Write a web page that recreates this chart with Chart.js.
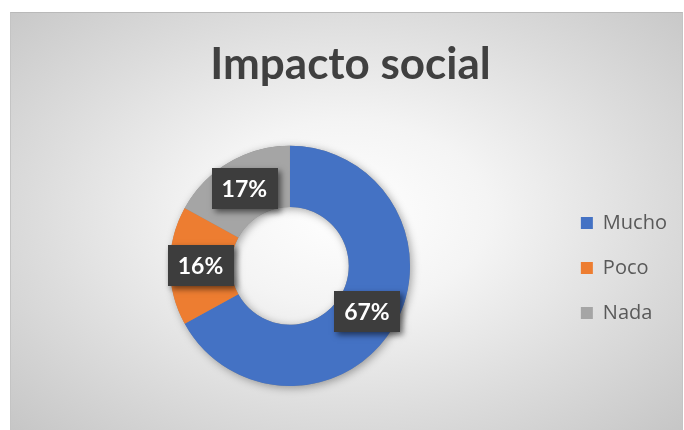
<!DOCTYPE html>
<html>
<head>
<meta charset="utf-8">
<script src="https://cdn.jsdelivr.net/npm/chart.js@4/dist/chart.umd.min.js"></script>
<style>
	html, body { margin:0; padding:0; background:#fff; }
	#frame { position:absolute; left:10px; top:12px; width:671px; height:418px;
		border-top:1px solid #b9b9b9; border-left:1px solid #c4c4c4; border-right:1px solid #c4c4c4;
		background:radial-gradient(ellipse farthest-corner at 50% 48%, #ffffff 0%, #f4f4f4 30%, #dcdcdc 66%, #c6c6c6 100%); }
	#c { position:absolute; left:0; top:0; }
</style>
</head>
<body>
<div id="frame"></div>
<canvas id="c" width="684" height="430"></canvas>
<script>
const titulo = 'Impacto social'
const categorias = ['Mucho', 'Poco', 'Nada']
const porcentajes = [67, 16, 17]
const colores = ['#4472C4', '#ED7D31', '#A5A5A5']

// sombra suave bajo el anillo
const sombraAnillo = {
	id:'sombraAnillo',
	beforeDatasetsDraw: a => {
		const arc = a.getDatasetMeta(0).data[0]
		if (!arc) return
		const ctx = a.ctx
		ctx.save()
		ctx.shadowColor = 'rgba(0,0,0,0.35)'
		ctx.shadowBlur = 9
		ctx.shadowOffsetX = 2
		ctx.shadowOffsetY = 2
		ctx.fillStyle = '#888'
		ctx.beginPath()
		ctx.arc(arc.x, arc.y, arc.outerRadius, 0, Math.PI * 2)
		ctx.arc(arc.x, arc.y, arc.innerRadius, 0, Math.PI * 2, true)
		ctx.fill()
		ctx.restore()
	}
}

// etiquetas de porcentaje en cajas oscuras
const etiquetas = {
	id:'etiquetas',
	afterDatasetsDraw: a => {
		const ctx = a.ctx
		a.getDatasetMeta(0).data.forEach((arc, i) => {
			const p = arc.tooltipPosition()
			const txt = porcentajes[i] + '%'
			ctx.save()
			ctx.font = 'bold 23px Lato'
			const w = ctx.measureText(txt).width + 20
			const h = 41
			ctx.shadowColor = 'rgba(0,0,0,0.55)'
			ctx.shadowBlur = 6
			ctx.shadowOffsetX = 3
			ctx.shadowOffsetY = 3
			ctx.fillStyle = '#3d3d3d'
			ctx.fillRect(Math.round(p.x - w / 2), Math.round(p.y - h / 2), Math.round(w), h)
			ctx.shadowColor = 'transparent'
			ctx.fillStyle = '#fff'
			ctx.textAlign = 'center'
			ctx.textBaseline = 'middle'
			ctx.fillText(txt, p.x, p.y + 1)
			ctx.restore()
		})
	}
}

new Chart(document.getElementById('c'), {
	type:'doughnut',
	plugins:[sombraAnillo, etiquetas],
	data:{
		labels:categorias,
		datasets:[{
			data:porcentajes,
			backgroundColor:colores,
			borderWidth:0,
		}]
	},
	options:{
		responsive:false,
		devicePixelRatio:1,
		animation:false,
		cutout:'49%',
		layout:{ padding:{ left:24, right:7, top:0, bottom:44 } },
		plugins:{
			title:{
				display:true,
				text:titulo,
				color:'#404040',
				font:{ family:'Lato', size:44, weight:'bold', lineHeight:1.2 },
				padding:{ top:38, bottom:55 },
			},
			legend:{
				position:'right',
				// título vacío: solo empuja los elementos hacia abajo
				title:{ display:true, text:' ', font:{ size:10, lineHeight:1 }, padding:{ top:140, bottom:0 } },
				labels:{
					boxWidth:12,
					boxHeight:12,
					padding:25,
					color:'#595959',
					font:{ family:'Open Sans', size:20 },
				}
			},
			tooltip:{ enabled:false },
		}
	}
})
</script>
</body>
</html>
